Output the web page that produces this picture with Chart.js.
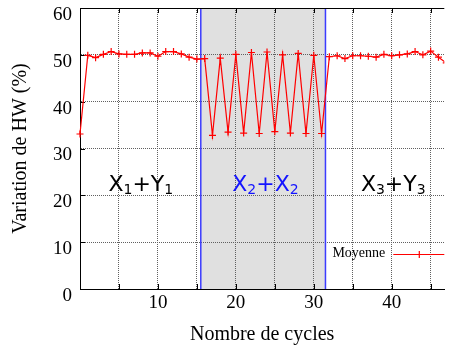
<!DOCTYPE html>
<html>
<head>
<meta charset="utf-8">
<script src="https://cdn.jsdelivr.net/npm/chart.js@4.4.0/dist/chart.umd.min.js"></script>
<style>
  html, body { margin: 0; padding: 0; background: #fff; }
  #wrap { width: 449px; height: 346px; }
</style>
</head>
<body>
<div id="wrap"><canvas id="chart"></canvas></div>
<script>
// cycle number and HW variation (%)
const cycles = [0, 1, 2, 3, 4, 5, 6, 7, 8, 9, 10, 11, 12, 13, 14, 15, 16, 17, 18, 19, 20, 21, 22, 23,
  24, 25, 26, 27, 28, 29, 30, 31, 32, 33, 34, 35, 36, 37, 38, 39, 40, 41, 42, 43, 44, 45, 46, 47];
const moyenne = [33.1, 49.9, 49.4, 50.1, 50.7, 50.2, 50.1, 50.1, 50.4, 50.4, 49.7, 50.7, 50.7, 50.2, 49.5, 49.1,
  49.2, 32.8, 49.3, 33.5, 50.1, 33.3, 50.5, 33.2, 50.6, 33.6, 50.0, 33.3, 50.3, 33.2, 49.9, 33.2,
  49.6, 49.8, 49.2, 49.8, 49.8, 49.7, 49.5, 50.1, 49.8, 50.0, 50.2, 50.7, 50.0, 50.8, 49.5, 48.3];

// shaded phase and the three phase names (main letter, subscript)
const bandRange = [15.5, 31.5];
const phaseLabels = [
  [['X', '1'], ['+', ''], ['Y', '1']],
  [['X', '2'], ['+', ''], ['X', '2']],
  [['X', '3'], ['+', ''], ['Y', '3']],
];
const phaseCenters = [7.8, 23.8, 40.2];
const phaseLevel = 21;
const phaseColors = ['#000000', '#1414ff', '#000000'];

const xTicks = [0, 5, 10, 15, 20, 25, 30, 35, 40, 45];
const serif = '"Liberation Serif", "Times New Roman", serif';

const decor = {
  id: 'decor',
  beforeDraw(chart) {
    const { ctx, chartArea: a, scales: { x } } = chart;
    const x0 = x.getPixelForValue(bandRange[0]);
    const x1 = x.getPixelForValue(bandRange[1]);
    ctx.save();
    ctx.fillStyle = '#e0e0e0';
    ctx.fillRect(x0, a.top, x1 - x0, a.bottom - a.top);
    ctx.restore();
  },
  beforeDatasetsDraw(chart) {
    const { ctx, chartArea: a, scales: { x, y } } = chart;
    ctx.save();
    ctx.strokeStyle = '#3c3cff';
    ctx.lineWidth = 1.5;
    bandRange.forEach((v) => {
      const px = x.getPixelForValue(v);
      ctx.beginPath();
      ctx.moveTo(px, a.top);
      ctx.lineTo(px, a.bottom);
      ctx.stroke();
    });
    // frame top + inward tick marks
    ctx.strokeStyle = '#000';
    ctx.lineWidth = 1;
    ctx.beginPath();
    ctx.moveTo(a.left, Math.round(a.top) + 0.5);
    ctx.lineTo(a.right, Math.round(a.top) + 0.5);
    x.ticks.forEach((t) => {
      const px = Math.round(x.getPixelForValue(t.value)) + 0.5;
      ctx.moveTo(px, a.bottom);
      ctx.lineTo(px, a.bottom - 5);
      ctx.moveTo(px, a.top);
      ctx.lineTo(px, a.top + 5);
    });
    y.ticks.forEach((t) => {
      const py = Math.round(y.getPixelForValue(t.value)) + 0.5;
      ctx.moveTo(a.left, py);
      ctx.lineTo(a.left + 5, py);
    });
    ctx.stroke();
    ctx.restore();
  },
  afterDraw(chart) {
    const { ctx, chartArea: a, scales: { x, y } } = chart;
    ctx.save();
    // phase names
    ctx.textBaseline = 'alphabetic';
    phaseLabels.forEach((parts, i) => {
      const big = '22px "DejaVu Sans", sans-serif';
      const small = '14px "DejaVu Sans", sans-serif';
      let w = 0;
      parts.forEach(([m, s]) => {
        ctx.font = big; w += ctx.measureText(m).width;
        ctx.font = small; w += ctx.measureText(s).width;
      });
      let px = x.getPixelForValue(phaseCenters[i]) - w / 2;
      const py = y.getPixelForValue(phaseLevel);
      ctx.fillStyle = phaseColors[i];
      parts.forEach(([m, s]) => {
        ctx.font = big; ctx.fillText(m, px, py); px += ctx.measureText(m).width;
        ctx.font = small; ctx.fillText(s, px, py + 3); px += ctx.measureText(s).width;
      });
    });
    // legend, inside the plot at the lower right
    const ly = a.bottom - 35;
    ctx.font = '14px ' + serif;
    ctx.fillStyle = '#000';
    ctx.textAlign = 'right';
    ctx.textBaseline = 'middle';
    ctx.fillText(chart.data.datasets[0].label, a.right - 59, ly - 1);
    ctx.strokeStyle = '#ff0000';
    ctx.lineWidth = 1.2;
    ctx.beginPath();
    ctx.moveTo(a.right - 51, ly + 0.5);
    ctx.lineTo(a.right, ly + 0.5);
    ctx.moveTo(a.right - 25, ly - 3);
    ctx.lineTo(a.right - 25, ly + 4);
    ctx.stroke();
    ctx.restore();
  },
};

new Chart(document.getElementById('chart'), {
  type: 'line',
  data: {
    labels: cycles,
    datasets: [{
      label: 'Moyenne',
      data: cycles.map((c, i) => ({ x: c, y: moyenne[i] })),
      borderColor: '#ff0000',
      backgroundColor: '#ff0000',
      borderWidth: 1.2,
      pointStyle: 'cross',
      pointRadius: 3.5,
      pointBorderWidth: 1.2,
      pointHoverRadius: 3.5,
      tension: 0,
      clip: { left: 6, top: 0, right: 0, bottom: 0 },
    }],
  },
  options: {
    responsive: true,
    maintainAspectRatio: false,
    animation: false,
    events: [],
    layout: { padding: { top: 8, right: 0, left: 0, bottom: 0 } },
    plugins: { legend: { display: false }, tooltip: { enabled: false } },
    scales: {
      x: {
        type: 'linear',
        min: 0,
        max: 46.75,
        afterBuildTicks: (s) => { s.ticks = xTicks.map((v) => ({ value: v })); },
        afterFit: (s) => { s.height = 57; s.paddingLeft = 0; s.paddingRight = 0; },
        grid: { color: '#606060', lineWidth: 1, drawTicks: false },
        border: { display: true, color: '#000', width: 1, dash: [1, 1] },
        ticks: {
          padding: 3,
          maxRotation: 0,
          font: { family: serif, size: 19 },
          color: '#000',
          callback: (v) => (v % 10 === 0 && v !== 0 ? String(v) : ''),
        },
        title: {
          display: true,
          text: 'Nombre de cycles',
          font: { family: serif, size: 20 },
          color: '#000',
          padding: { top: 0, bottom: -1 },
        },
      },
      y: {
        min: 0,
        max: 60,
        afterFit: (s) => { s.width = 80; s.paddingTop = 0; s.paddingBottom = 0; },
        grid: { color: '#606060', lineWidth: 1, drawTicks: false },
        border: { display: true, color: '#000', width: 1, dash: [1, 1] },
        ticks: {
          stepSize: 10,
          padding: 8,
          labelOffset: 7,
          font: { family: serif, size: 19 },
          color: '#000',
        },
        title: {
          display: true,
          text: 'Variation de HW (%)',
          font: { family: serif, size: 20 },
          color: '#000',
          padding: { top: 9, bottom: 0 },
        },
      },
    },
  },
  plugins: [decor],
});
</script>
</body>
</html>
